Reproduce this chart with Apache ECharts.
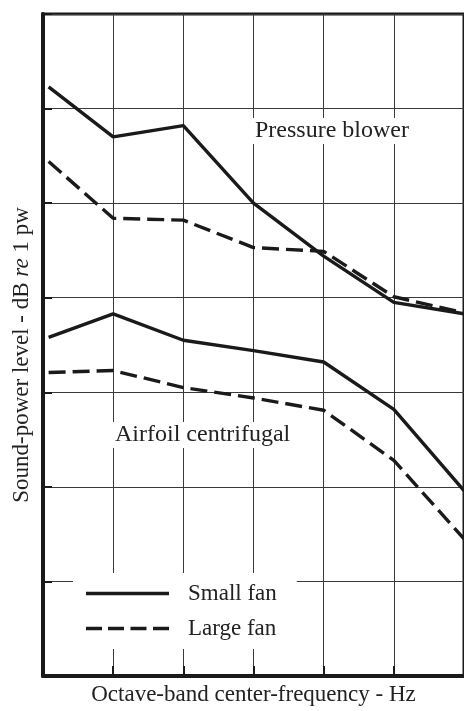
<!DOCTYPE html>
<html>
<head>
<meta charset="utf-8">
<script src="https://cdn.jsdelivr.net/npm/echarts@6/dist/echarts.min.js"></script>
<style>
html,body{margin:0;padding:0;background:#fff;}
#chart{width:464px;height:711px;}
</style>
</head>
<body>
<div id="chart"></div>
<script>
// Octave-band positions (band index along the x axis)
var bandPositions = [0.08, 1, 2, 3, 4, 5, 6];
var pressureSmall = [62.3, 57.0, 58.2, 50.0, 44.4, 39.5, 38.3];
var pressureLarge = [54.4, 48.4, 48.2, 45.3, 44.9, 40.1, 38.4];
var airfoilSmall  = [35.8, 38.3, 35.5, 34.4, 33.2, 28.2, 19.6];
var airfoilLarge  = [32.1, 32.3, 30.5, 29.4, 28.1, 22.8, 14.5];
var legendNames = ['Small fan', 'Large fan'];
var annotations = ['Pressure blower', 'Airfoil centrifugal'];

function pairs(vals){ return vals.map(function(v,i){ return [bandPositions[i], v]; }); }

var FONT = '"Liberation Serif", "DejaVu Serif", serif';
var INK = '#1a1a1a';
var DASH = [17, 7];
var SOLID_ICON = 'path://M0,0h83v3.4h-83z';
var DASH_ICON = 'path://M0,0h16v3.4h-16z M22,0h16v3.4h-16z M44.5,0h16v3.4h-16z M67,0h16v3.4h-16z';

var chart = echarts.init(document.getElementById('chart'), null, {renderer:'canvas'});
chart.setOption({
  animation: false,
  backgroundColor: '#ffffff',
  grid: { left: 43, top: 14, right: -7, bottom: 35, show: true, borderColor: INK, borderWidth: 3, backgroundColor: 'transparent' },
  title: [
    { text: annotations[0], left: 252, top: 118, padding: [1, 3, 1, 3], backgroundColor: '#fff',
      textStyle: { fontFamily: FONT, fontSize: 24, fontWeight: 'normal', color: '#222' } },
    { text: annotations[1], left: 112, top: 422, padding: [1, 3, 1, 3], backgroundColor: '#fff',
      textStyle: { fontFamily: FONT, fontSize: 24, fontWeight: 'normal', color: '#222' } }
  ],
  legend: {
    data: [
      { name: legendNames[0], icon: SOLID_ICON },
      { name: legendNames[1], icon: DASH_ICON }
    ],
    orient: 'vertical',
    left: 73, top: 573,
    backgroundColor: '#fff',
    padding: [9, 20, 9, 13],
    itemWidth: 83, itemHeight: 3.4, itemGap: 12,
    selectedMode: false,
    itemStyle: { color: INK, borderWidth: 0 },
    textStyle: { fontFamily: FONT, fontSize: 23, color: '#222', padding: [0, 0, 0, 14], lineHeight: 22 }
  },
  xAxis: {
    type: 'value', min: 0, max: 6, interval: 1,
    name: 'Octave-band center-frequency - Hz',
    nameLocation: 'middle', nameGap: 7,
    nameTextStyle: { fontFamily: FONT, fontSize: 23, color: '#222' },
    axisLine: { show: true, lineStyle: { color: INK, width: 4 } },
    axisTick: { show: true, inside: true, length: 10, lineStyle: { color: INK, width: 2 } },
    axisLabel: { show: false },
    splitLine: { show: true, lineStyle: { color: '#3a3a3a', width: 1 } }
  },
  yAxis: {
    type: 'value', min: 0, max: 70, interval: 10,
    name: '{n|Sound-power level - dB }{i|re}{n| 1 pw}',
    nameLocation: 'middle', nameGap: 10, nameRotate: 90,
    nameTextStyle: {
      padding: [0, 20, 0, 0],
      rich: {
        n: { fontFamily: FONT, fontSize: 23, color: '#222' },
        i: { fontFamily: FONT, fontSize: 23, color: '#222', fontStyle: 'italic' }
      }
    },
    axisLine: { show: true, lineStyle: { color: INK, width: 4 } },
    axisTick: { show: true, inside: true, length: 9, lineStyle: { color: INK, width: 2 } },
    axisLabel: { show: false },
    splitLine: { show: true, lineStyle: { color: '#3a3a3a', width: 1 } }
  },
  series: [
    { name: legendNames[0], type: 'line', data: pairs(pressureSmall), symbol: 'none',
      lineStyle: { color: INK, width: 3.4 }, itemStyle: { color: INK } },
    { name: legendNames[1], type: 'line', data: pairs(pressureLarge), symbol: 'none',
      lineStyle: { color: INK, width: 3.4, type: DASH }, itemStyle: { color: INK } },
    { name: legendNames[0], type: 'line', data: pairs(airfoilSmall), symbol: 'none',
      lineStyle: { color: INK, width: 3.4 }, itemStyle: { color: INK } },
    { name: legendNames[1], type: 'line', data: pairs(airfoilLarge), symbol: 'none',
      lineStyle: { color: INK, width: 3.4, type: DASH }, itemStyle: { color: INK } }
  ]
});
</script>
</body>
</html>
